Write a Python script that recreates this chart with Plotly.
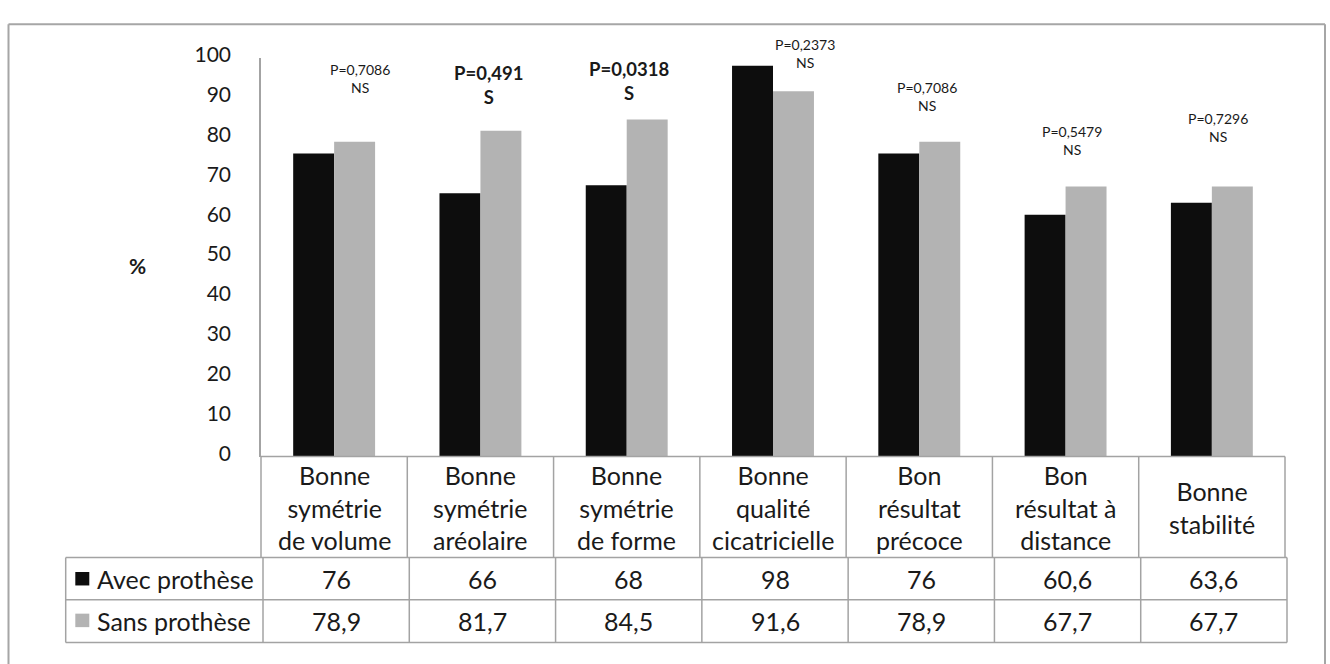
import plotly.graph_objects as go

# ---- data -------------------------------------------------------------
categories = [
    "Bonne<br>symétrie<br>de volume",
    "Bonne<br>symétrie<br>aréolaire",
    "Bonne<br>symétrie<br>de forme",
    "Bonne<br>qualité<br>cicatricielle",
    "Bon<br>résultat<br>précoce",
    "Bon<br>résultat à<br>distance",
    "Bonne<br>stabilité",
]
series_names = ["Avec prothèse", "Sans prothèse"]
avec_prothese = [76, 66, 68, 98, 76, 60.6, 63.6]
sans_prothese = [78.9, 81.7, 84.5, 91.6, 78.9, 67.7, 67.7]
p_values = ["P=0,7086", "P=0,491", "P=0,0318", "P=0,2373", "P=0,7086", "P=0,5479", "P=0,7296"]
significance = ["NS", "S", "S", "NS", "NS", "NS", "NS"]
y_ticks = [0, 10, 20, 30, 40, 50, 60, 70, 80, 90, 100]

# ---- layout constants (pixels) ---------------------------------------
W, H = 1330, 664
FONT = "Lato, 'Open Sans', sans-serif"
TXT = "#1a1a1a"
LINE = "#a3a3a3"
BLACK = "#0d0d0d"
GREY = "#b3b3b3"
TABLE_SIZE = 25

PLOT_L, PLOT_R = 261, 1285          # plot area / table columns
Y_TOP, Y_ZERO = 42.3, 456.7          # 100 % and 0 % rows
ROW1, ROW2, ROW3 = 561.7, 605.5, 650  # data-table row lines
HEAD_L = 65.7                          # left edge of the series header cells
N = len(categories)
COL = (PLOT_R - PLOT_L) / N

# p-value label placement: horizontal shift from the group centre, vertical centre
p_shift = [26, 8, 2, 32, 8, 6, 6]
p_center_y = [64, 71, 67, 37.5, 83, 128, 114.5]


def px(x):
    return x / W


def py(y):
    return 1 - y / H


fig = go.Figure()
for name, vals, col in [(series_names[0], avec_prothese, BLACK),
                        (series_names[1], sans_prothese, GREY)]:
    fig.add_trace(go.Bar(
        x=list(range(N)), y=vals, name=name,
        marker=dict(color=col, line=dict(width=0)),
        hoverinfo="y+name", showlegend=False,
    ))

shapes = []


def hline(x0, x1, y, color=LINE, width=1.5):
    shapes.append(dict(type="line", xref="paper", yref="paper",
                       x0=px(x0), x1=px(x1), y0=py(y), y1=py(y),
                       line=dict(color=color, width=width)))


def vline(x, y0, y1, color=LINE, width=1.5):
    shapes.append(dict(type="line", xref="paper", yref="paper",
                       x0=px(x), x1=px(x), y0=py(y0), y1=py(y1),
                       line=dict(color=color, width=width)))


# outer chart frame (bottom edge lies below the page)
hline(8.5, 1325, 7.5, color="#a6a6a6", width=2)
vline(8.5, 7.5, 700, color="#a6a6a6", width=2)
vline(1325, 7.5, 700, color="#a6a6a6", width=2)

# category header row of the data table
hline(PLOT_L, PLOT_R, Y_ZERO)
for k in range(N + 1):
    vline(PLOT_L + k * COL, Y_ZERO, ROW1)

# value rows of the data table
for y in (ROW1, ROW2, ROW3):
    hline(HEAD_L, PLOT_R + 2, y)
vline(HEAD_L, ROW1, ROW3)
for k in range(N + 1):
    vline(PLOT_L + 2 + k * COL, ROW1, ROW3)

# legend keys inside the header cells
for (y0, color) in [(576.7, BLACK), (620.0, GREY)]:
    shapes.append(dict(type="rect", xref="paper", yref="paper",
                       x0=px(75.3), x1=px(89.3), y0=py(y0), y1=py(y0 + 14),
                       fillcolor=color, line=dict(width=0)))

annotations = []

# category labels
for k, cat in enumerate(categories):
    annotations.append(dict(
        x=k, xref="x", y=py((Y_ZERO + ROW1) / 2 + 1), yref="paper",
        text=cat, showarrow=False, xanchor="center", yanchor="middle",
        font=dict(family=FONT, size=TABLE_SIZE, color=TXT)))

# values in the table
for row_y, vals in [((ROW1 + ROW2) / 2, avec_prothese), ((ROW2 + ROW3) / 2, sans_prothese)]:
    for k, v in enumerate(vals):
        annotations.append(dict(
            x=k, xref="x", xshift=2, y=py(row_y), yref="paper",
            text=f"{v:g}".replace(".", ","), showarrow=False,
            xanchor="center", yanchor="middle",
            font=dict(family=FONT, size=TABLE_SIZE, color=TXT)))

# series names in the header column
for row_y, name in [((ROW1 + ROW2) / 2, series_names[0]), ((ROW2 + ROW3) / 2, series_names[1])]:
    annotations.append(dict(
        x=px(95), xref="paper", y=py(row_y), yref="paper",
        text=name, showarrow=False, xanchor="left", yanchor="middle",
        font=dict(family=FONT, size=TABLE_SIZE, color=TXT)))

# p-values above each group
for k, (p, s) in enumerate(zip(p_values, significance)):
    bold = s == "S"
    txt = f"<b>{p}<br>{s}</b>" if bold else f"{p}<br>{s}"
    annotations.append(dict(
        x=k, xref="x", xshift=p_shift[k], y=py(p_center_y[k]), yref="paper",
        text=txt, showarrow=False, xanchor="center", yanchor="middle",
        font=dict(family=FONT, size=18.5 if bold else 14, color=TXT)))

# y-axis title
annotations.append(dict(
    x=px(137), xref="paper", y=py(258), yref="paper", text="<b>%</b>",
    showarrow=False, xanchor="center", yanchor="middle",
    font=dict(family=FONT, size=21, color=TXT)))

fig.update_layout(
    width=W, height=H,
    margin=dict(l=0, r=0, t=0, b=0),
    paper_bgcolor="white", plot_bgcolor="white",
    barmode="group", bargap=0.44, bargroupgap=0,
    xaxis=dict(domain=[px(PLOT_L), px(PLOT_R)], range=[-0.5, N - 0.5],
               showticklabels=False, showgrid=False, zeroline=False,
               showline=False, fixedrange=True),
    yaxis=dict(domain=[py(Y_ZERO), py(Y_TOP)], range=[0, 100],
               tickvals=y_ticks, ticktext=[str(t) for t in y_ticks],
               showgrid=False, zeroline=False,
               showline=True, linecolor=LINE, linewidth=1.5,
               ticks="outside", ticklen=0, ticklabelstandoff=24,
               ticklabelshift=-3,
               tickfont=dict(family=FONT, size=21, color=TXT),
               fixedrange=True),
    shapes=shapes,
    annotations=annotations,
)

fig.write_html("out.html")
